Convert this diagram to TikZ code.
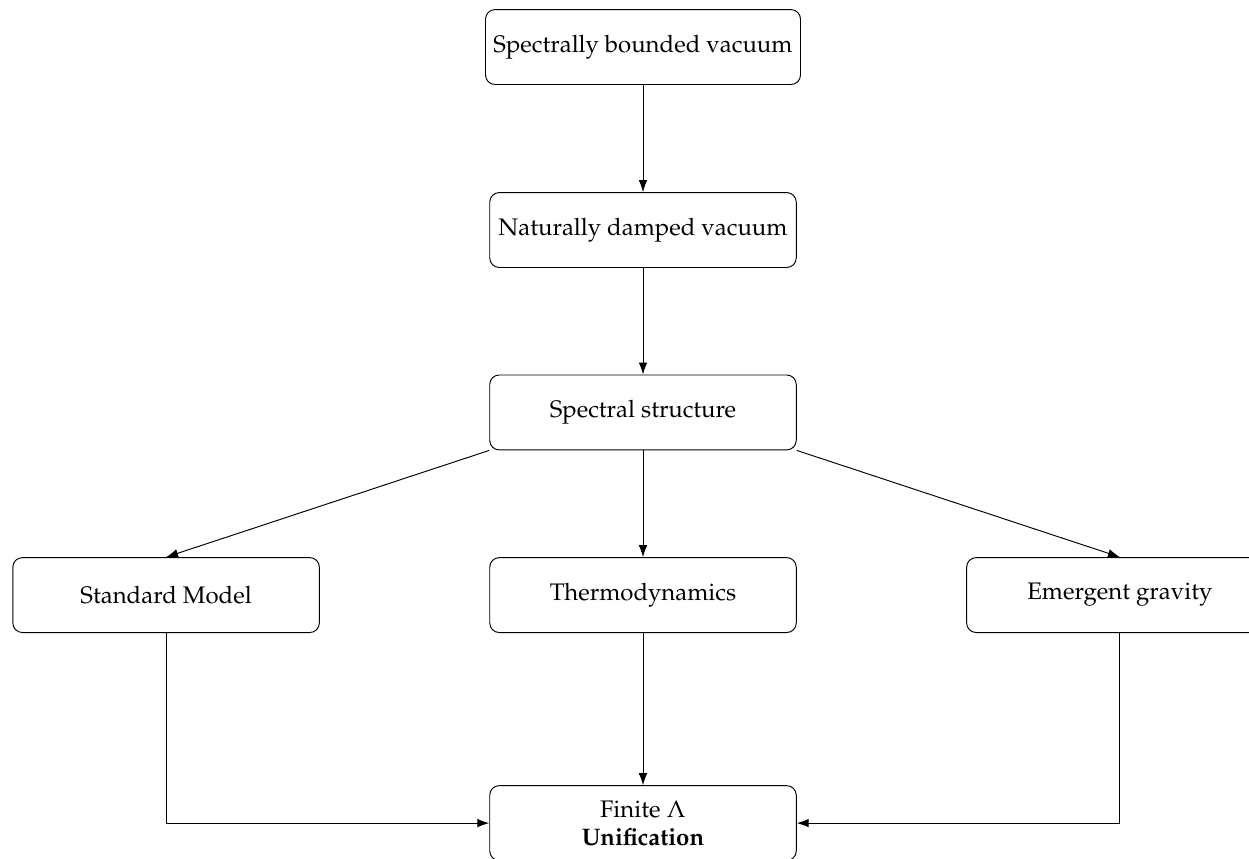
\documentclass[tikz,border=0pt]{standalone}
\usepackage[T1]{fontenc}
\usepackage{mathpazo}
\usepackage{amsmath}
\usetikzlibrary{arrows.meta}

\begin{document}
\begin{tikzpicture}[x=0.75pt,y=0.75pt,yscale=-1,xscale=1,
  stage/.style={draw, rounded corners, minimum width=4.5cm, minimum height=1.1cm, align=center},
  flow/.style={-{Latex[length=5pt,width=3.6pt]}}]
%set diagram left start at 0, and has height of 478
\useasboundingbox (0,0) rectangle (695.6,477.9);

% Text Node
\node[stage] (bounded) at (358.1,26.2) {Spectrally bounded vacuum};
% Text Node
\node[stage] (damped) at (358.1,128.1) {Naturally damped vacuum};
% Text Node
\node[stage] (spectral) at (358.1,229.7) {Spectral structure};
% Text Node
\node[stage] (model) at (92.5,331.4) {Standard Model};
% Text Node
\node[stage] (thermo) at (358.1,331.4) {Thermodynamics};
% Text Node
\node[stage] (gravity) at (623.7,331.4) {Emergent gravity};
% Text Node
\node[stage] (unify) at (358.1,458.4) {Finite $\Lambda$\\\textbf{Unification}};

%Straight Lines
\draw[flow] (bounded) -- (damped);
\draw[flow] (damped) -- (spectral);
\draw[flow] (spectral.south west) -- (model.north);
\draw[flow] (spectral) -- (thermo);
\draw[flow] (spectral.south east) -- (gravity.north);
\draw[flow] (thermo) -- (unify);
%Elbow Lines
\draw[flow] (model.south) |- (unify.west);
\draw[flow] (gravity.south) |- (unify.east);

\end{tikzpicture}
\end{document}
